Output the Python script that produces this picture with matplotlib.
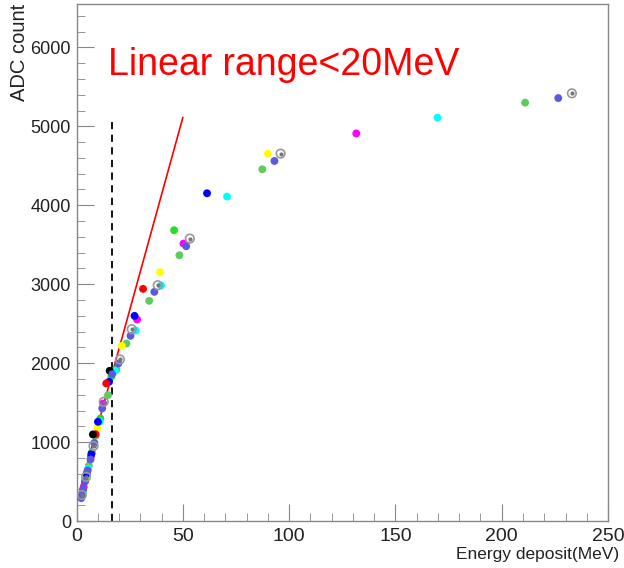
import matplotlib
matplotlib.use("Agg")
import matplotlib.pyplot as plt
from matplotlib.ticker import MultipleLocator

plt.rcParams['font.family'] = ['Liberation Sans', 'DejaVu Sans']

# points per channel (energy deposit MeV, ADC count)
purple_x = [2.2, 2.6, 3.1, 4.0, 5.2, 6.6, 8.4, 12.1, 16.8, 19.7, 25.4, 36.6, 51.6, 93.1, 226.6]
purple_y = [290, 340, 400, 500, 640, 780, 990, 1427, 1860, 1996, 2346, 2903, 3481, 4561, 5358]
gray_x = [2.5, 4.5, 8.0, 12.8, 20.4, 26.0, 38.2, 53.3, 96.0, 233.0]
gray_y = [330, 560, 950, 1510, 2047, 2430, 2987, 3578, 4654, 5418]
green_x = [3.0, 5.8, 9.0, 14.8, 18.8, 23.5, 34.2, 48.4, 87.4, 211.0]
green_y = [390, 700, 1080, 1595, 1920, 2249, 2789, 3367, 4456, 5300]
lime_x = [4.2, 7.2, 11.2, 16.4, 45.9]
lime_y = [520, 870, 1300, 1830, 3684]
cyan_x = [2.9, 5.5, 11.0, 18.1, 27.9, 39.8, 70.8, 169.8]
cyan_y = [370, 660, 1260, 1903, 2414, 2983, 4110, 5110]
magenta_x = [3.4, 6.8, 12.5, 28.5, 50.3, 131.6]
magenta_y = [430, 820, 1489, 2553, 3515, 4910]
yellow_x = [9.8, 21.3, 39.3, 90.0]
yellow_y = [1180, 2219, 3152, 4654]
blue_x = [2.4, 4.8, 7.0, 10.1, 15.3, 27.3, 61.4]
blue_y = [310, 600, 850, 1257, 1764, 2599, 4152]
red_x = [9.0, 14.0, 31.3]
red_y = [1100, 1743, 2941]
black_x = [7.7, 15.6]
black_y = [1097, 1903]

# linear fit and cut
fit_x = [0, 50]
fit_y = [230, 5110]
cut_e = 16.8
cut_top = 5070

fig = plt.figure(figsize=(6.24, 5.68), dpi=100)
ax = fig.add_axes([0.1226, 0.0827, 0.8518, 0.9103])

ax.plot(fit_x, fit_y, color='red', lw=1.2, zorder=2)
ax.plot([cut_e, cut_e], [0, cut_top], color='black', lw=1.3, ls=(0, (4, 3)), zorder=2)

series = [
    (green_x, green_y, '#5ccc5c'),
    (lime_x, lime_y, '#22e022'),
    (cyan_x, cyan_y, '#00ffff'),
    (magenta_x, magenta_y, '#ff00ff'),
    (yellow_x, yellow_y, '#ffff00'),
    (blue_x, blue_y, '#0000ff'),
    (red_x, red_y, '#ff0000'),
    (black_x, black_y, '#000000'),
    (purple_x, purple_y, '#5a5ae0'),
]
for xs, ys, c in series:
    ax.scatter(xs, ys, s=32, color=c, edgecolors='none', zorder=3)

ax.scatter(gray_x, gray_y, s=38, facecolors='none', edgecolors='#999999', linewidths=1.2, zorder=4)
ax.scatter(gray_x, gray_y, s=4, color='#777777', zorder=4)

ax.set_xlim(0, 250)
ax.set_ylim(0, 6550)
ax.xaxis.set_major_locator(MultipleLocator(50))
ax.xaxis.set_minor_locator(MultipleLocator(10))
ax.yaxis.set_major_locator(MultipleLocator(1000))
ax.yaxis.set_minor_locator(MultipleLocator(200))

for s in ax.spines.values():
    s.set_color('#888888')
    s.set_linewidth(1.0)
ax.tick_params(which='both', direction='in', color='#888888', top=False, right=False)
ax.tick_params(which='major', length=12)
ax.tick_params(which='minor', length=6)
ax.tick_params(axis='y', labelsize=13, pad=4, labelcolor='#222222')
ax.tick_params(axis='x', labelsize=14, pad=5, labelcolor='#222222')

fig.text(0.016, 0.993, 'ADC count', rotation=90, ha='left', va='top', fontsize=14.5, color='#222222')
fig.text(0.992, 0.016, 'Energy deposit(MeV)', ha='right', va='baseline', fontsize=12.5, color='#222222')

ax.text(0.060, 0.862, 'Linear range<20MeV', transform=ax.transAxes, color='red',
        fontsize=27, ha='left', va='baseline')

fig.savefig('out.png', dpi=100)
